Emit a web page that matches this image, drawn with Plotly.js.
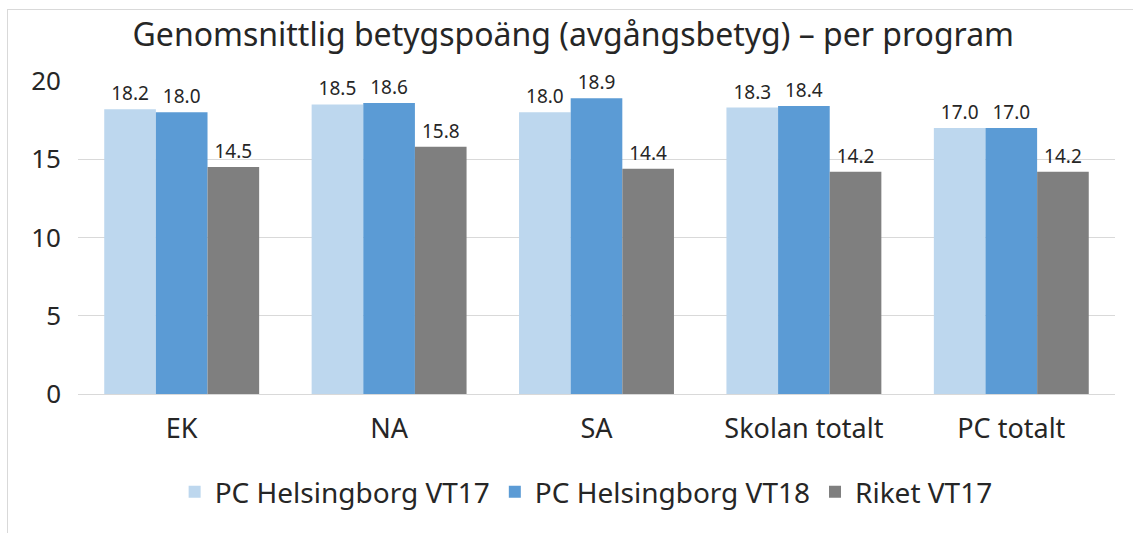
<!DOCTYPE html>
<html>
<head>
<meta charset="utf-8">
<script src="https://cdn.plot.ly/plotly-3.0.1.min.js"></script>
<style>
  html, body { margin: 0; padding: 0; background: #fff; }
  #wrap { position: relative; width: 1133px; height: 533px; }
  #chart { width: 1133px; height: 533px; }
  #frame { position: absolute; left: 7px; top: 9px; right: 0; bottom: 0;
           border-left: 1px solid #d9d9d9; border-top: 1px solid #d9d9d9; pointer-events: none; }
</style>
</head>
<body>
<div id="wrap">
  <div id="chart"></div>
  <div id="frame"></div>
</div>
<script>
const categories = ["EK", "NA", "SA", "Skolan totalt", "PC totalt"];
const seriesNames = ["PC Helsingborg VT17", "PC Helsingborg VT18", "Riket VT17"];
const vt17 = [18.2, 18.5, 18.0, 18.3, 17.0];
const vt18 = [18.0, 18.6, 18.9, 18.4, 17.0];
const riket = [14.5, 15.8, 14.4, 14.2, 14.2];
const colors = ["#bdd7ee", "#5b9bd5", "#7f7f7f"];
const yTicks = [0, 5, 10, 15, 20];

const FONT = "Noto Sans, Open Sans, sans-serif";
const seriesValues = [vt17, vt18, riket];
const traces = seriesValues.map((vals, i) => ({
  type: "bar",
  name: seriesNames[i],
  x: categories,
  y: vals,
  marker: { color: colors[i] },
  text: vals.map(v => v.toFixed(1)),
  textposition: "outside",
  textfont: { size: 19, color: "#262626", family: FONT },
  cliponaxis: false,
  hoverinfo: "x+y+name"
}));

const layout = {
  width: 1133, height: 533,
  paper_bgcolor: "#ffffff", plot_bgcolor: "#ffffff",
  margin: { l: 78, r: 18, t: 81, b: 139 },
  font: { family: FONT, color: "#262626" },
  title: {
    text: "Genomsnittlig betygspoäng (avgångsbetyg) – per program",
    font: { size: 32, color: "#262626", family: FONT },
    x: 0.506, xanchor: "center", y: 0.934, yanchor: "middle"
  },
  barmode: "group",
  bargap: 0.253,
  bargroupgap: 0,
  xaxis: {
    type: "category",
    tickfont: { size: 27, color: "#262626" },
    showgrid: false, showline: false, ticks: "",
    zeroline: false,
    ticklabelstandoff: 16
  },
  yaxis: {
    range: [0, 20],
    tickvals: yTicks,
    ticktext: yTicks.map(String),
    tickfont: { size: 26, color: "#262626" },
    showgrid: true, gridcolor: "#d9d9d9", gridwidth: 1,
    zeroline: true, zerolinecolor: "#d9d9d9", zerolinewidth: 1,
    showline: false, ticks: "", ticklen: 0,
    ticklabelstandoff: 16
  },
  legend: {
    orientation: "h",
    x: 0.49, xanchor: "center",
    y: -0.313, yanchor: "middle",
    font: { size: 28, color: "#262626" },
    itemwidth: 30,
    traceorder: "normal"
  },
  showlegend: true
};

Plotly.newPlot("chart", traces, layout, { displayModeBar: false, staticPlot: true });
</script>
</body>
</html>
